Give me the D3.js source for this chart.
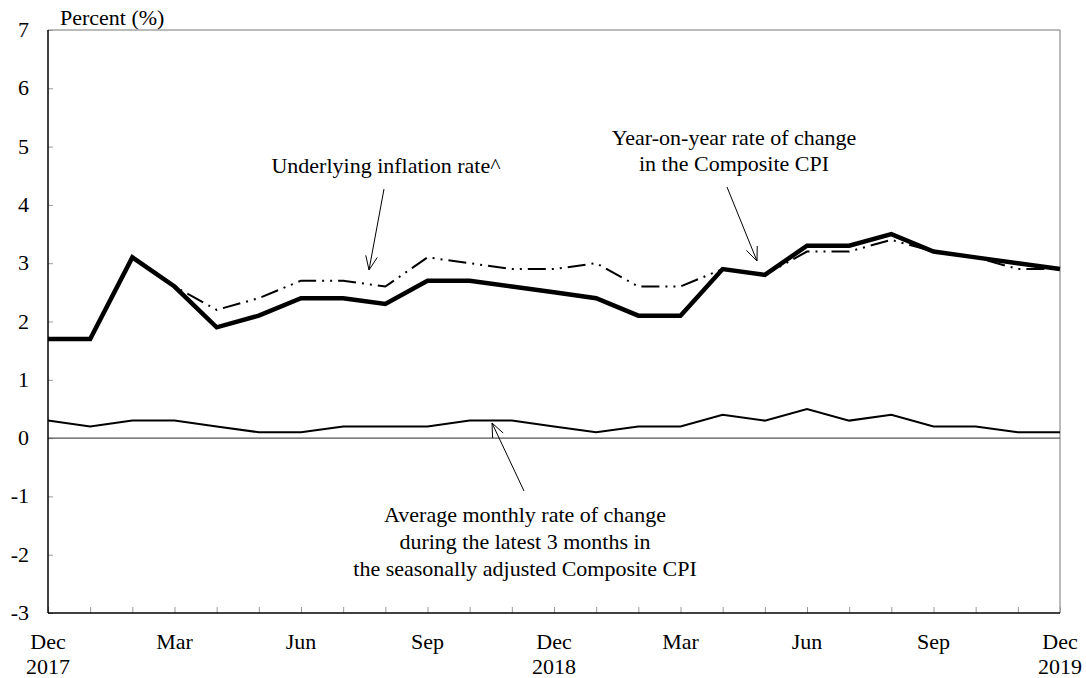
<!DOCTYPE html>
<html lang="en">
<head>
<meta charset="utf-8">
<title>Composite CPI</title>
<script src="https://cdnjs.cloudflare.com/ajax/libs/d3/7.8.5/d3.min.js"></script>
<style>
body { margin: 0; background: #fff; }
svg text { font-family: "Liberation Serif", "Times New Roman", serif; fill: #000; }
</style>
</head>
<body>
<div id="chart"></div>
<script>

// months Dec 2017 .. Dec 2019
var months = ['Dec','Jan','Feb','Mar','Apr','May','Jun','Jul','Aug','Sep','Oct','Nov',
              'Dec','Jan','Feb','Mar','Apr','May','Jun','Jul','Aug','Sep','Oct','Nov','Dec']
var yearLabels = { 0: '2017', 12: '2018', 24: '2019' }

var yoyComposite = [1.7,1.7,3.1,2.6,1.9,2.1,2.4,2.4,2.3,2.7,2.7,2.6,
                    2.5,2.4,2.1,2.1,2.9,2.8,3.3,3.3,3.5,3.2,3.1,3.0,2.9]
var underlying   = [1.7,1.7,3.1,2.6,2.2,2.4,2.7,2.7,2.6,3.1,3.0,2.9,
                    2.9,3.0,2.6,2.6,2.9,2.8,3.2,3.2,3.4,3.2,3.1,2.9,2.9]
var avgMonthly   = [0.3,0.2,0.3,0.3,0.2,0.1,0.1,0.2,0.2,0.2,0.3,0.3,
                    0.2,0.1,0.2,0.2,0.4,0.3,0.5,0.3,0.4,0.2,0.2,0.1,0.1]
var yTicks = [-3,-2,-1,0,1,2,3,4,5,6,7]

var svgWidth = 1086, svgHeight = 678
var margins = { top: 30, bottom: 65, left: 48, right: 26 }
var w = svgWidth - margins.left - margins.right,
    h = svgHeight - margins.top - margins.bottom
var fs = '22px'

var svg = d3.select('#chart').append('svg')
    .attr('width', svgWidth)
    .attr('height', svgHeight)

var g = svg.append('g')
    .attr('transform', 'translate(' + margins.left + ',' + margins.top + ')')

var x = d3.scaleLinear().domain([0, months.length - 1]).range([0, w])
var y = d3.scaleLinear().domain([-3, 7]).range([h, 0])

// frame (top/right grey)
g.append('line').attr('x1', 0).attr('x2', w).attr('y1', 0).attr('y2', 0)
    .attr('stroke', '#777').attr('stroke-width', 1)
g.append('line').attr('x1', w).attr('x2', w).attr('y1', 0).attr('y2', h)
    .attr('stroke', '#777').attr('stroke-width', 1)

// y axis
var yAxis = g.append('g')
    .call(d3.axisRight(y).tickValues(yTicks).tickSize(5).tickFormat(''))
yAxis.select('.domain').remove()
yAxis.selectAll('.tick line').attr('stroke', '#999')
g.selectAll('.ylab')
    .data(yTicks)
    .enter().append('text')
      .attr('class', 'ylab')
      .attr('x', -19)
      .attr('y', function(d) { return y(d) + 7 })
      .attr('text-anchor', 'end')
      .style('font-size', fs)
      .text(function(d) { return d })

// x axis ticks, inside
var xAxis = g.append('g')
    .attr('transform', 'translate(0,' + h + ')')
    .call(d3.axisTop(x).tickValues(d3.range(months.length)).tickSize(6).tickFormat(''))
xAxis.select('.domain').remove()
xAxis.selectAll('.tick line').attr('stroke', '#999')

g.selectAll('.xlab')
    .data(d3.range(0, months.length, 3))
    .enter().append('text')
      .attr('class', 'xlab')
      .attr('x', function(d) { return x(d) })
      .attr('y', h + 36)
      .attr('text-anchor', 'middle')
      .style('font-size', fs)
      .text(function(d) { return months[d] })
g.selectAll('.yrlab')
    .data(Object.keys(yearLabels))
    .enter().append('text')
      .attr('class', 'yrlab')
      .attr('x', function(d) { return x(+d) })
      .attr('y', h + 61)
      .attr('text-anchor', 'middle')
      .style('font-size', fs)
      .text(function(d) { return yearLabels[d] })

// zero line
g.append('line').attr('x1', 0).attr('x2', w).attr('y1', y(0)).attr('y2', y(0))
    .attr('stroke', '#555').attr('stroke-width', 1.3)

// left and bottom axis lines
g.append('line').attr('x1', 0).attr('x2', 0).attr('y1', 0).attr('y2', h)
    .attr('stroke', '#000').attr('stroke-width', 1.5)
g.append('line').attr('x1', 0).attr('x2', w).attr('y1', h).attr('y2', h)
    .attr('stroke', '#000').attr('stroke-width', 1.5)

var line = d3.line()
    .x(function(d, i) { return x(i) })
    .y(function(d) { return y(d) })

g.append('path').datum(avgMonthly)
    .attr('d', line).attr('fill', 'none')
    .attr('stroke', '#000').attr('stroke-width', 2)

g.append('path').datum(underlying)
    .attr('d', line).attr('fill', 'none')
    .attr('stroke', '#000').attr('stroke-width', 2)
    .attr('stroke-dasharray', '18,6,2,6,2,6')

g.append('path').datum(yoyComposite)
    .attr('d', line).attr('fill', 'none')
    .attr('stroke', '#000').attr('stroke-width', 4.5)
    .attr('stroke-linejoin', 'miter')

// annotations
svg.append('text').attr('x', 60).attr('y', 25)
    .style('font-size', fs).text('Percent (%)')

function note(lines, cx, y0, dy) {
    lines.forEach(function(t, i) {
        svg.append('text').attr('x', cx).attr('y', y0 + i * dy)
            .attr('text-anchor', 'middle')
            .style('font-size', fs)
            .text(t)
    })
}
note(['Underlying inflation rate^'], 386, 173, 26)
note(['Year-on-year rate of change', 'in the Composite CPI'], 734, 145, 26)
note(['Average monthly rate of change', 'during the latest 3 months in',
      'the seasonally adjusted Composite CPI'], 525, 522, 27)

function arrow(x1, y1, x2, y2) {
    var a = Math.atan2(y2 - y1, x2 - x1), len = 15, spread = 0.4
    svg.append('line').attr('x1', x1).attr('y1', y1).attr('x2', x2).attr('y2', y2)
        .attr('stroke', '#000').attr('stroke-width', 1)
    svg.append('path')
        .attr('d', 'M' + (x2 - len * Math.cos(a - spread)) + ',' + (y2 - len * Math.sin(a - spread)) +
                   'L' + x2 + ',' + y2 +
                   'L' + (x2 - len * Math.cos(a + spread)) + ',' + (y2 - len * Math.sin(a + spread)))
        .attr('fill', 'none').attr('stroke', '#000').attr('stroke-width', 1)
}
arrow(384, 189, 369, 270)
arrow(727, 187, 757, 261)
arrow(524, 491, 492, 423)

</script>
</body>
</html>
